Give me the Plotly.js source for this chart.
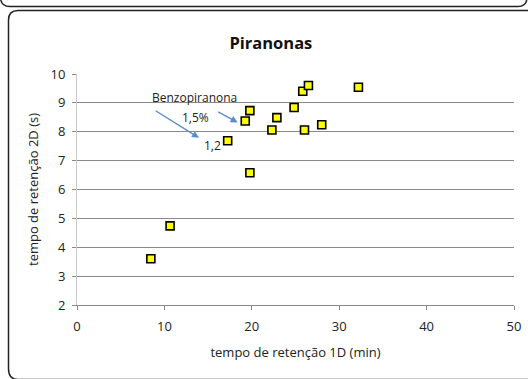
<!DOCTYPE html>
<html>
<head>
<meta charset="utf-8">
<script src="https://cdn.plot.ly/plotly-3.0.1.min.js"></script>
<style>
  html, body { margin: 0; padding: 0; background: #fff; overflow: hidden; }
  #wrap { position: relative; width: 528px; height: 379px; overflow: hidden; }
  #deco { position: absolute; left: 0; top: 0; }
  #chart { position: absolute; left: 0; top: 0; width: 528px; height: 379px; }
</style>
</head>
<body>
<div id="wrap">
  <svg id="deco" width="528" height="379" xmlns="http://www.w3.org/2000/svg">
    <path d="M 0.5 -2 Q 1 6.5 10 6.5 L 518 6.5 Q 526.5 6.5 527 -2" fill="none" stroke="#222" stroke-width="1.5"/>
    <path d="M 540 10.5 L 18 10.5 Q 8.5 10.5 8.5 20 L 8.5 369 Q 8.5 379.5 18 379.5 L 540 379.5" fill="none" stroke="#222" stroke-width="1.5"/>
  </svg>
  <div id="chart"></div>
</div>
<script>
// Retention times: 1D (min) and 2D (s)
const time1D = [8.45, 10.65, 17.24, 19.78, 19.25, 19.78, 22.3, 22.87, 24.84, 26.03, 28.0, 25.83, 26.48, 32.2];
const time2D = [3.60, 4.74, 7.69, 6.58, 8.37, 8.73, 8.06, 8.49, 8.84, 8.06, 8.24, 9.40, 9.60, 9.54];

const titleText = "Piranonas";
const xTitle = "tempo de retenção 1D (min)";
const yTitle = "tempo de retenção 2D (s)";

// Annotation labels
const labelTexts = ["Benzopiranona", "1,5%", "1,2"];
const labelX = [13.5, 13.6, 15.45];
const labelY = [9.2, 8.48, 7.51];
// Arrows (tail -> head) in data coordinates
const arrowTailX = [8.82, 15.98];
const arrowTailY = [8.76, 8.72];
const arrowHeadX = [13.96, 18.38];
const arrowHeadY = [7.79, 8.32];

const font = "Open Sans, Liberation Sans, sans-serif";

const trace = {
  x: time1D, y: time2D, type: "scatter", mode: "markers",
  marker: { symbol: "square", size: 8, color: "#ffff00", line: { color: "#000", width: 1.6 } },
  hoverinfo: "skip", cliponaxis: false
};

const annotations = [];
for (let i = 0; i < labelTexts.length; i++) {
  annotations.push({ x: labelX[i], y: labelY[i], xref: "x", yref: "y", text: labelTexts[i],
    showarrow: false, font: { family: font, size: 12, color: "#222" } });
}
for (let i = 0; i < arrowTailX.length; i++) {
  annotations.push({ x: arrowHeadX[i], y: arrowHeadY[i], ax: arrowTailX[i], ay: arrowTailY[i],
    xref: "x", yref: "y", axref: "x", ayref: "y", text: "", showarrow: true,
    arrowhead: 2, arrowsize: 1, arrowwidth: 1.4, arrowcolor: "#5a8ccc" });
}

const layout = {
  width: 528, height: 379,
  paper_bgcolor: "rgba(0,0,0,0)", plot_bgcolor: "rgba(0,0,0,0)",
  margin: { l: 77, r: 14, t: 74, b: 74 },
  showlegend: false,
  font: { family: font, color: "#222" },
  title: { text: titleText, x: 0.513, xanchor: "center", xref: "container",
           y: 0.885, yanchor: "middle", yref: "container",
           font: { family: font, size: 16.5, color: "#111", weight: "bold" } },
  xaxis: {
    range: [0, 50], dtick: 10, tick0: 0, showgrid: false, zeroline: false,
    showline: true, linecolor: "#8a8a8a", linewidth: 1,
    ticks: "outside", ticklen: 4, tickcolor: "#8a8a8a", ticklabelstandoff: 5,
    tickfont: { family: font, size: 13, color: "#222" },
    title: { text: xTitle, standoff: 14, font: { family: font, size: 13, color: "#222" } }
  },
  yaxis: {
    range: [2, 10], dtick: 1, tick0: 2, showgrid: true, gridcolor: "#8a8a8a", gridwidth: 1,
    zeroline: false, showline: true, linecolor: "#c8c8c8", linewidth: 1,
    ticks: "outside", ticklen: 4, tickcolor: "#8a8a8a", ticklabelstandoff: 4,
    tickfont: { family: font, size: 13, color: "#222" },
    title: { text: yTitle, standoff: 8, font: { family: font, size: 13, color: "#222" } }
  },
  annotations: annotations
};

Plotly.newPlot("chart", [trace], layout, { staticPlot: true, displayModeBar: false });
</script>
</body>
</html>
